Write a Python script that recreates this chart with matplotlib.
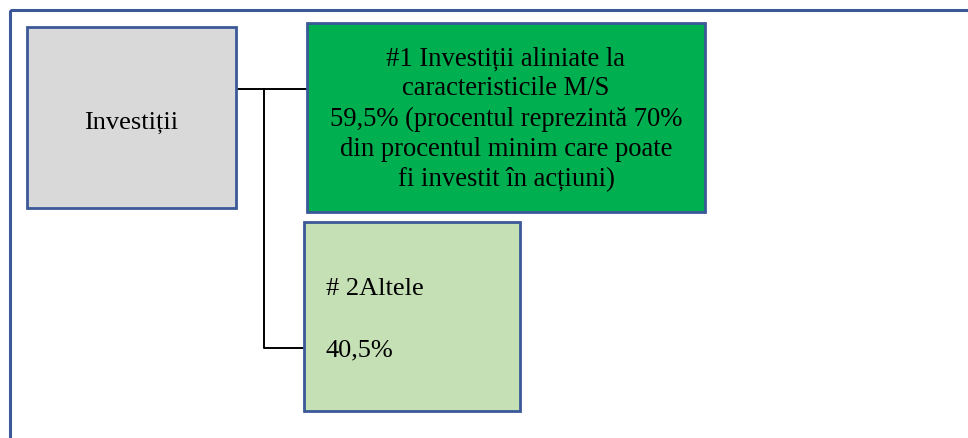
import matplotlib.pyplot as plt
from matplotlib.patches import Rectangle

# continut diagrama
etichete = ["Investiții",
            "#1 Investiții aliniate la\ncaracteristicile M/S\n59,5% (procentul reprezintă 70%\ndin procentul minim care poate\nfi investit în acțiuni)",
            "# 2Altele",
            "40,5%"]
culori = ["#D9D9D9", "#00B050", "#C5E0B4"]
bordura = "#3B5998"

# pozitii casete (x, y, latime, inaltime) in pixeli
casete = [(27, 28, 209, 181), (307, 24, 398, 189), (304, 223, 216, 189)]

fig = plt.figure(figsize=(9.68, 4.39), dpi=100)
ax = fig.add_axes([0, 0, 1, 1])
ax.set_xlim(0, 968)
ax.set_ylim(439, 0)
ax.axis('off')

# chenar exterior
ax.add_patch(Rectangle((10, 11), 1000, 500, fill=False, edgecolor=bordura, linewidth=2.2))

for (x, y, w, h), c in zip(casete, culori):
    ax.add_patch(Rectangle((x, y), w, h, facecolor=c, edgecolor=bordura, linewidth=2, zorder=2))

# linii de legatura
ax.plot([236, 307], [90, 90], color='black', linewidth=1.4, zorder=1)
ax.plot([264, 264, 304], [90, 349, 349], color='black', linewidth=1.4, zorder=1)

font = dict(family='Liberation Serif', color='black', zorder=3)
ax.text(131, 123, etichete[0], ha='center', va='center', fontsize=19, **font)
ax.text(506, 119, etichete[1], ha='center', va='center', fontsize=19.2, linespacing=1.27, **font)
ax.text(326, 289, etichete[2], ha='left', va='center', fontsize=19, **font)
ax.text(326, 350, etichete[3], ha='left', va='center', fontsize=19, **font)

fig.savefig('out.png', dpi=100)
